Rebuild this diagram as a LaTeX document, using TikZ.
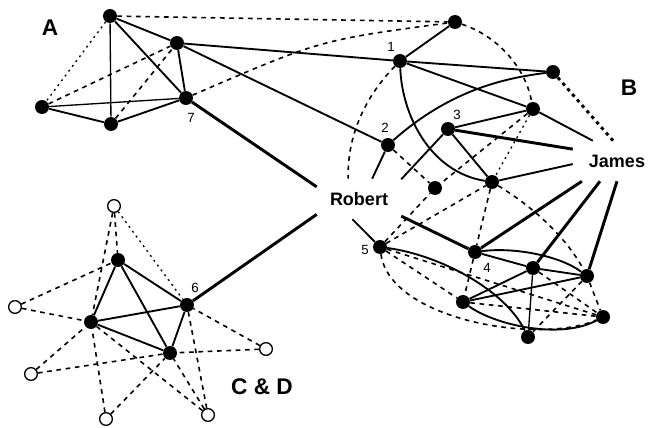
\documentclass[tikz,border=0pt]{standalone}
\usepackage{fontspec}
\setmainfont{Liberation Sans}
\usetikzlibrary{backgrounds}
\begin{document}
\begin{tikzpicture}[x=0.75pt,y=-0.75pt,
  actor/.style={circle,fill=black,minimum size=10.5pt,inner sep=0pt},
  outsider/.style={circle,draw=black,fill=white,line width=1pt,minimum size=9.5pt,inner sep=0pt},
  person/.style={rectangle,inner sep=0pt,font=\fontsize{13.5}{16}\selectfont\bfseries},
  grouplabel/.style={font=\fontsize{17}{20}\selectfont\bfseries,inner sep=0pt},
  numlabel/.style={font=\fontsize{10}{12}\selectfont,inner sep=0pt},
  tie/.style={line width=1.4pt},
  thintie/.style={line width=1pt},
  strongtie/.style={line width=2.2pt},
  weaktie/.style={line width=1.2pt,dash pattern=on 3.5pt off 3.5pt},
  faintie/.style={line width=1pt,dash pattern=on 1.5pt off 3pt},
  heavydots/.style={line width=2.2pt,dash pattern=on 2.5pt off 3pt},
]
\useasboundingbox (0,0) rectangle (651,428);

% ---------- actors ----------
% group A
\node[actor] (A1) at (110,16) {};
\node[actor] (A2) at (177,43) {};
\node[actor] (A3) at (186,98) {};
\node[actor] (A4) at (42,107) {};
\node[actor] (A5) at (111,124) {};
% group B
\node[actor] (T)  at (455,22) {};
\node[actor] (B1) at (400,61) {};
\node[actor] (BR) at (553,72) {};
\node[actor] (Bm) at (533,109) {};
\node[actor] (B3) at (448,129) {};
\node[actor] (B2) at (388,145) {};
\node[actor] (Bc) at (492,182) {};
\node[actor] (Bs) at (435,188) {};
\node[actor] (B5) at (380,247) {};
\node[actor] (B4) at (475,252) {};
\node[actor] (B6) at (533,268) {};
\node[actor] (B7) at (587,276) {};
\node[actor] (B8) at (463,302) {};
\node[actor] (B9) at (603,317) {};
\node[actor] (B10) at (528,337) {};
% named people
\node[person,minimum width=63pt,minimum height=30pt] (Robert) at (359,199) {Robert};
\node[person,minimum width=66pt,minimum height=30pt] (James) at (617,161) {James};
% groups C and D
\node[actor] (C1) at (118,260) {};
\node[actor] (C2) at (187,305) {};
\node[actor] (C3) at (91,322) {};
\node[actor] (C4) at (170,353) {};
\node[outsider] (O1) at (114,206) {};
\node[outsider] (O2) at (15,307) {};
\node[outsider] (O3) at (266,349) {};
\node[outsider] (O4) at (31,374) {};
\node[outsider] (O5) at (106,419) {};
\node[outsider] (O6) at (208,415) {};

% ---------- labels ----------
\node[grouplabel] (labA) at (50,28) {A};
\node[grouplabel] (labB) at (629,88) {B};
\node[grouplabel] (labCD) at (262,387) {C \& D};
\node[numlabel] (n1) at (391,47) {1};
\node[numlabel] (n2) at (385,128) {2};
\node[numlabel] (n3) at (457,115) {3};
\node[numlabel] (n4) at (487,268) {4};
\node[numlabel] (n5) at (365,250) {5};
\node[numlabel] (n6) at (195,288) {6};
\node[numlabel] (n7) at (191,118) {7};

% ---------- ties ----------
\begin{scope}[on background layer]
\fill[white] (0,0) rectangle (651,428);

% inside A
\draw[tie] (A1) -- (A2);
\draw[tie] (A1) -- (A3);
\draw[thintie] (A1) -- (A5);
\draw[tie] (A2) -- (A3);
\draw[thintie] (A4) -- (A3);
\draw[tie] (A4) -- (A5);
\draw[tie] (A5) -- (A3);
\draw[faintie] (A1) -- (A4);
\draw[weaktie] (A4) -- (A2);
\draw[weaktie] (A5) -- (A2);

% A to B and to Robert
\draw[weaktie] (A1) -- (T);
\draw[weaktie] (A3) .. controls (320,40) .. (T);
\draw[tie] (A2) -- (B1);
\draw[tie] (A2) -- (B2);
\draw[strongtie] (A3) -- (Robert.164);

% upper part of B
\draw[tie] (T) -- (B1);
\draw[tie] (B1) -- (BR);
\draw[tie] (B1) -- (Bm);
\draw[tie] (B1) .. controls (402,115) and (430,172) .. (Bc);
\draw[weaktie] (B1) .. controls (362,100) and (347,140) .. (Robert.118);
\draw[tie] (B2) .. controls (450,90) and (505,78) .. (BR);
\draw[tie] (B2) -- (Robert.57);
\draw[weaktie] (B2) -- (Bs);
\draw[tie] (B3) -- (Robert.25);
\draw[tie] (B3) -- (Bm);
\draw[strongtie] (B3) -- (James.165);
\draw[tie] (B3) -- (Bc);
\draw[tie] (Bm) -- (James.140);
\draw[tie] (Bc) -- (James.184);
\draw[faintie] (Bm) -- (Bc);
\draw[weaktie] (T) .. controls (495,35) and (525,65) .. (Bm);
\draw[heavydots] (BR) -- (James.101);
\draw[weaktie] (Bm) -- (Bs);
\draw[weaktie] (B5) -- (Bs);
\draw[weaktie] (B5) -- (Bc);
\draw[weaktie] (Bc) -- (B4);
\draw[weaktie] (Bc) .. controls (530,205) and (565,235) .. (B7);

% lower part of B
\draw[strongtie] (Robert.338) -- (B4);
\draw[tie] (Robert.252) -- (B5);
\draw[strongtie] (James.210) -- (B4);
\draw[strongtie] (James.230) -- (B6);
\draw[strongtie] (James.270) -- (B7);
\draw[tie] (B4) -- (B6);
\draw[tie] (B4) .. controls (515,247) and (560,256) .. (B7);
\draw[tie] (B6) -- (B7);
\draw[thintie] (B6) -- (B10);
\draw[tie] (B8) -- (B6);
\draw[tie] (B8) -- (B7);
\draw[tie] (B8) .. controls (495,325) and (560,340) .. (B9);
\draw[tie] (B5) .. controls (440,255) and (505,290) .. (B10);
\draw[weaktie] (B4) -- (B8);
\draw[weaktie] (B5) -- (B8);
\draw[weaktie] (B5) .. controls (390,320) and (540,345) .. (B9);
\draw[weaktie] (B5) -- (B9);
\draw[weaktie] (B8) -- (B9);
\draw[weaktie] (B7) -- (B9);
\draw[weaktie] (B7) -- (B10);
\draw[weaktie] (B6) -- (B9);

% Robert to C & D
\draw[strongtie] (Robert.200) -- (C2);

% inside C & D
\draw[tie] (C1) -- (C2);
\draw[tie] (C1) -- (C3);
\draw[tie] (C1) -- (C4);
\draw[tie] (C2) -- (C3);
\draw[tie] (C2) -- (C4);
\draw[tie] (C3) -- (C4);
\draw[weaktie] (O1) -- (C1);
\draw[weaktie] (O1) -- (C3);
\draw[faintie] (O1) -- (C2);
\draw[weaktie] (O2) -- (C1);
\draw[weaktie] (O2) -- (C3);
\draw[weaktie] (O3) -- (C2);
\draw[weaktie] (O3) -- (C4);
\draw[weaktie] (O4) -- (C3);
\draw[weaktie] (O4) -- (C4);
\draw[weaktie] (O5) -- (C3);
\draw[weaktie] (O5) -- (C4);
\draw[weaktie] (O6) -- (C2);
\draw[weaktie] (O6) -- (C3);
\draw[weaktie] (O6) -- (C4);
\end{scope}
\end{tikzpicture}
\end{document}
